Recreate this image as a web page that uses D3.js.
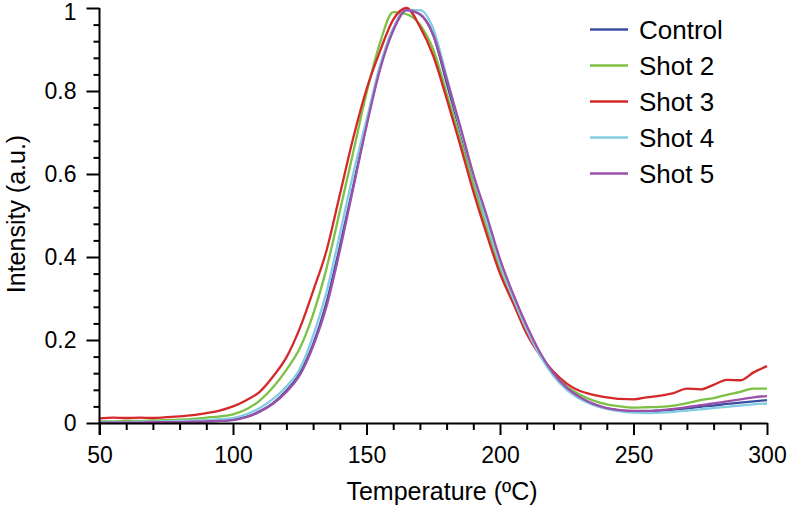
<!DOCTYPE html>
<html><head><meta charset="utf-8">
<script src="https://cdn.jsdelivr.net/npm/d3@7"></script>
<style>
html,body{margin:0;padding:0;background:#fff;}
svg{display:block;}
text{font-family:"Liberation Sans",Arial,Helvetica,sans-serif;fill:#000;}
</style></head>
<body>
<svg id="chart" width="788" height="507"></svg>
<script>
const temps = [50,55,60,65,70,75,80,85,90,95,100,105,110,115,120,125,130,135,140,145,150,155,160,165,170,175,180,185,190,195,200,205,210,215,220,225,230,235,240,245,250,255,260,265,270,275,280,285,290,295,300];

const control = [0.001,0.001,0.001,0.001,0.002,0.002,0.003,0.003,0.004,0.005,0.008,0.015,0.028,0.048,0.078,0.12,0.19,0.29,0.425,0.57,0.72,0.855,0.95,0.995,0.985,0.935,0.82,0.705,0.59,0.485,0.385,0.305,0.23,0.165,0.118,0.083,0.06,0.045,0.035,0.03,0.028,0.028,0.03,0.032,0.035,0.039,0.042,0.046,0.049,0.052,0.055];
const shot2 = [0.004,0.004,0.005,0.005,0.006,0.007,0.008,0.010,0.013,0.016,0.021,0.033,0.054,0.086,0.128,0.18,0.262,0.372,0.51,0.652,0.795,0.915,0.99,0.985,0.96,0.9,0.795,0.685,0.575,0.468,0.372,0.295,0.225,0.165,0.12,0.088,0.068,0.054,0.045,0.04,0.037,0.038,0.039,0.042,0.048,0.055,0.06,0.068,0.075,0.083,0.083];
const shot3 = [0.011,0.013,0.012,0.013,0.012,0.014,0.016,0.019,0.024,0.030,0.040,0.055,0.075,0.112,0.158,0.228,0.318,0.415,0.55,0.686,0.804,0.895,0.972,1.0,0.955,0.885,0.782,0.672,0.558,0.455,0.36,0.288,0.215,0.163,0.124,0.095,0.077,0.068,0.062,0.058,0.057,0.062,0.066,0.072,0.083,0.081,0.092,0.104,0.103,0.122,0.137];
const shot4 = [0.002,0.002,0.002,0.003,0.003,0.004,0.005,0.006,0.007,0.009,0.012,0.021,0.036,0.058,0.088,0.13,0.21,0.315,0.455,0.6,0.73,0.86,0.95,0.995,0.995,0.95,0.835,0.712,0.595,0.485,0.383,0.3,0.225,0.162,0.114,0.08,0.058,0.043,0.034,0.028,0.025,0.024,0.025,0.027,0.03,0.033,0.036,0.039,0.042,0.045,0.047];
const shot5 = [0.001,0.001,0.001,0.001,0.002,0.002,0.002,0.003,0.004,0.005,0.007,0.014,0.027,0.046,0.075,0.115,0.185,0.28,0.415,0.565,0.715,0.85,0.945,0.995,0.985,0.935,0.83,0.718,0.6,0.5,0.395,0.31,0.235,0.17,0.12,0.085,0.062,0.046,0.036,0.031,0.029,0.029,0.031,0.034,0.038,0.043,0.047,0.052,0.057,0.062,0.065];

const seriesNames = ["Control","Shot 2","Shot 3","Shot 4","Shot 5"];
const seriesColors = ["#3b4fa1","#7dc144","#d5282b","#84cce2","#9b51a9"];
const seriesValues = [control, shot2, shot3, shot4, shot5];

const xTicks = [50,100,150,200,250,300];
const yTicks = [0,0.2,0.4,0.6,0.8,1];
const yTickLabels = ["0","0.2","0.4","0.6","0.8","1"];

const svg = d3.select("#chart");
const x = d3.scaleLinear().domain([50,300]).range([99.5,767]);
const y = d3.scaleLinear().domain([0,1]).range([423,8]);

// data lines
const line = d3.line().x(d=>x(d[0])).y(d=>y(d[1])).curve(d3.curveMonotoneX);
seriesValues.forEach((vals,i)=>{
  svg.append("path")
    .datum(temps.map((t,j)=>[t,vals[j]]))
    .attr("fill","none")
    .attr("stroke",seriesColors[i])
    .attr("stroke-width",2.3)
    .attr("stroke-linejoin","round")
    .attr("d",line);
});

// x axis
const xMinor = d3.range(50,301,10).filter(v=>!xTicks.includes(v));
const gx = svg.append("g").attr("transform","translate(0,423)");
gx.append("g").call(d3.axisBottom(x).tickValues(xMinor).tickSize(7).tickFormat(""))
  .call(g=>g.select(".domain").remove());
gx.append("g").call(d3.axisBottom(x).tickValues(xTicks).tickSize(12).tickSizeOuter(0).tickPadding(12).tickFormat(d3.format("d")))
  .call(g=>g.selectAll("text").attr("font-size",23).attr("font-family","Liberation Sans, Arial, sans-serif"));
gx.selectAll("line,path").attr("stroke","#000").attr("stroke-width",2);

// y axis
const yMinor = d3.range(0,1.001,0.04).map(v=>+v.toFixed(2)).filter(v=>!yTicks.some(t=>Math.abs(t-v)<1e-6));
const gy = svg.append("g").attr("transform","translate(99.5,0)");
gy.append("g").call(d3.axisLeft(y).tickValues(yMinor).tickSize(6).tickFormat(""))
  .call(g=>g.select(".domain").remove());
gy.append("g").call(d3.axisLeft(y).tickValues(yTicks).tickSize(13).tickSizeOuter(0).tickPadding(10).tickFormat((d,i)=>yTickLabels[i]))
  .call(g=>g.selectAll("text").attr("font-size",23).attr("font-family","Liberation Sans, Arial, sans-serif"))
  .call(g=>g.selectAll(".tick").filter(d=>d===1).select("text").attr("dy","0.5em"));
gy.selectAll("line,path").attr("stroke","#000").attr("stroke-width",2);
gy.select(".domain").attr("d","M0,8V435");

// axis titles
svg.append("text").attr("x",442).attr("y",500).attr("text-anchor","middle")
  .attr("font-size",25).text("Temperature (ºC)");
svg.append("text").attr("transform","translate(25,214) rotate(-90)").attr("text-anchor","middle")
  .attr("font-size",25).text("Intensity (a.u.)");

// legend
const legend = svg.append("g");
seriesNames.forEach((name,i)=>{
  const cy = 29.5 + i*36;
  legend.append("line").attr("x1",590).attr("x2",628).attr("y1",cy).attr("y2",cy)
    .attr("stroke",seriesColors[i]).attr("stroke-width",2.3);
  legend.append("text").attr("x",639).attr("y",cy+9.5).attr("font-size",26).text(name);
});
</script>
</body></html>
